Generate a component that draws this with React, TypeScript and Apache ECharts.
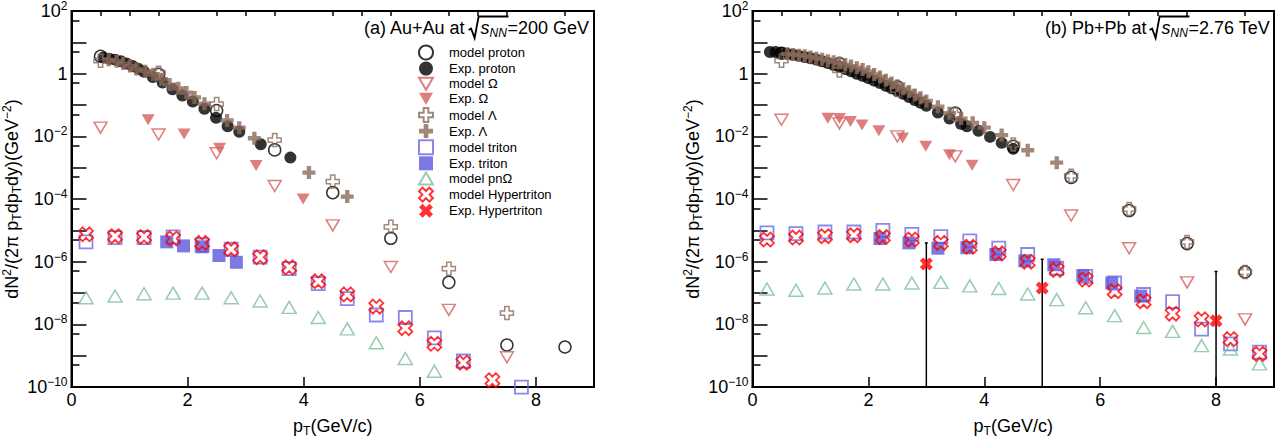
import React, { useEffect, useRef } from "react";
import * as echarts from "echarts";

// ---------- axis ticks / labels ----------
const xMajorTicks = [0, 2, 4, 6, 8];
const xMinorTicks = [0.5, 1, 1.5, 2.5, 3, 3.5, 4.5, 5, 5.5, 6.5, 7, 7.5, 8.5];
const yDecadeTicks = [1e-10, 1e-9, 1e-8, 1e-7, 1e-6, 1e-5, 1e-4, 1e-3, 1e-2, 1e-1, 1, 10, 100];
const yLabelValues = [1e-10, 1e-8, 1e-6, 1e-4, 1e-2, 1, 100];
const yMinorTicks = [5e-10, 5e-9, 5e-8, 5e-7, 5e-6, 5e-5, 5e-4, 5e-3, 5e-2, 0.5, 5, 50];

// ---------- legend names ----------
const N_MP = "model proton";
const N_EP = "Exp. proton";
const N_MO = "model Ω";
const N_EO = "Exp. Ω";
const N_ML = "model Λ";
const N_EL = "Exp. Λ";
const N_MT = "model triton";
const N_ET = "Exp. triton";
const N_PNO = "model pnΩ";
const N_MH = "model Hypertriton";
const N_EH = "Exp. Hypertriton";
const legendNames = [N_MP, N_EP, N_MO, N_EO, N_ML, N_EL, N_MT, N_ET, N_PNO, N_MH, N_EH];

// ---------- panel (a) Au+Au 200 GeV ----------
const aModelPt = [0.5, 1.5, 2.5, 3.5, 4.5, 5.5, 6.5, 7.5, 8.5];
const aModelProton = [3.6, 0.95, 0.067, 0.0037, 1.6e-4, 5.6e-6, 2.2e-7, 2.2e-9, 1.9e-9];
const aModelOmega = [0.019, 0.0115, 0.0029, 2.6e-4, 1.45e-5, 6.8e-7, 2.9e-8, 9e-10];
const aModelLambda = [2.6, 1.07, 0.107, 0.0076, 3.6e-4, 1.3e-5, 6e-7, 2.3e-8];
const aExpProtonPt = [0.55, 0.65, 0.75, 0.85, 0.95, 1.05, 1.15, 1.25, 1.4, 1.57, 1.74, 1.91, 2.09, 2.29, 2.49, 2.69, 2.89, 3.26, 3.77];
const aExpProton = [3.3, 3.0, 2.8, 2.5, 2.1, 1.75, 1.45, 1.15, 0.78, 0.52, 0.32, 0.2, 0.13, 0.076, 0.039, 0.021, 0.014, 0.0056, 0.0021];
const aExpOmegaPt = [1.32, 1.94, 2.55, 3.18, 3.99];
const aExpOmega = [0.034, 0.0118, 0.0042, 0.00117, 1.0e-4];
const aExpLambdaPt = [0.64, 0.78, 0.89, 1.01, 1.12, 1.27, 1.41, 1.55, 1.69, 1.84, 1.98, 2.12, 2.29, 2.68, 2.89, 3.15, 4.09, 4.75];
const aExpLambda = [2.8, 2.5, 2.1, 1.75, 1.4, 1.2, 0.96, 0.67, 0.45, 0.34, 0.25, 0.175, 0.11, 0.032, 0.019, 0.0087, 7e-4, 1.2e-4];
const aModelTritonPt = [0.25, 0.75, 1.25, 1.75, 2.25, 2.75, 3.25, 3.75, 4.25, 4.75, 5.25, 5.75, 6.25, 6.75, 7.75];
const aModelTriton = [4.3e-6, 5.9e-6, 5.9e-6, 6.2e-6, 3.4e-6, 2.5e-6, 1.4e-6, 6e-7, 2.0e-7, 6.7e-8, 2.0e-8, 1.66e-8, 3.7e-9, 6.8e-10, 1.0e-10];
const aExpTritonPt = [1.64, 1.93, 2.25, 2.54, 2.84];
const aExpTriton = [4.3e-6, 3.2e-6, 3.0e-6, 1.58e-6, 9.6e-7];
const aPnOmegaPt = [0.25, 0.75, 1.25, 1.75, 2.25, 2.75, 3.25, 3.75, 4.25, 4.75, 5.25, 5.75, 6.25];
const aPnOmega = [7.1e-8, 8.1e-8, 9.5e-8, 1.0e-7, 1.0e-7, 7.1e-8, 5.6e-8, 3.5e-8, 1.66e-8, 7.2e-9, 2.6e-9, 8.2e-10, 3.2e-10];
const aModelHyperPt = [0.25, 0.75, 1.25, 1.75, 2.25, 2.75, 3.25, 3.75, 4.25, 4.75, 5.25, 5.75, 6.25, 6.75, 7.25];
const aModelHyper = [7.5e-6, 6.5e-6, 6.2e-6, 5.5e-6, 4.0e-6, 2.5e-6, 1.4e-6, 6.6e-7, 2.4e-7, 9.1e-8, 3.7e-8, 7.6e-9, 2.4e-9, 6e-10, 1.66e-10];

// ---------- panel (b) Pb+Pb 2.76 TeV ----------
const bModelPt = [0.5, 1.5, 2.5, 3.5, 4.5, 5.5, 6.5, 7.5, 8.5];
const bModelProton = [4.5, 2.1, 0.38, 0.055, 0.0048, 4.9e-4, 4.3e-5, 3.8e-6, 4.7e-7];
const bModelLambda = [2.6, 1.27, 0.3, 0.05, 0.0055, 5.5e-4, 4.8e-5, 4.3e-6, 4.7e-7];
const bModelOmega = [0.034, 0.026, 0.010, 0.0023, 2.8e-4, 3.0e-5, 2.7e-6, 2.2e-7, 1.45e-8];
const bExpProtonPt = [0.3, 0.4, 0.5, 0.6, 0.7, 0.8, 0.9, 1.0, 1.1, 1.2, 1.3, 1.4, 1.5, 1.6, 1.7, 1.8, 1.9, 2.0, 2.1, 2.2, 2.3, 2.4, 2.5, 2.6, 2.7, 2.8, 2.9, 3.0, 3.2, 3.4, 3.6, 3.7, 3.9, 4.1, 4.3, 4.5];
const bExpProton = [4.9, 4.9, 4.6, 4.3, 4.0, 3.7, 3.4, 3.1, 2.8, 2.5, 2.2, 1.9, 1.65, 1.4, 1.2, 1.0, 0.85, 0.72, 0.6, 0.5, 0.41, 0.34, 0.28, 0.23, 0.18, 0.145, 0.118, 0.095, 0.058, 0.037, 0.025, 0.021, 0.015, 0.0096, 0.0062, 0.004];
const bExpLambdaPt = [0.6, 0.7, 0.8, 0.9, 1.0, 1.1, 1.2, 1.3, 1.4, 1.5, 1.6, 1.7, 1.8, 1.9, 2.0, 2.1, 2.2, 2.3, 2.4, 2.5, 2.6, 2.7, 2.8, 2.9, 3.0, 3.2, 3.4, 3.6, 3.8, 4.0, 4.3, 4.75, 5.25];
const bExpLambda = [4.3, 4.1, 3.9, 3.7, 3.4, 3.1, 2.9, 2.6, 2.4, 2.2, 1.95, 1.75, 1.55, 1.35, 1.15, 0.95, 0.78, 0.62, 0.5, 0.41, 0.33, 0.27, 0.21, 0.17, 0.135, 0.088, 0.055, 0.037, 0.027, 0.019, 0.011, 0.0036, 0.00145];
const bExpOmegaPt = [1.3, 1.5, 1.69, 1.89, 2.18, 2.59, 2.99, 3.4, 3.79];
const bExpOmega = [0.038, 0.037, 0.03, 0.023, 0.015, 0.0089, 0.0048, 0.0026, 0.0012];
const bModelHalfPt = [0.25, 0.75, 1.25, 1.75, 2.25, 2.75, 3.25, 3.75, 4.25, 4.75, 5.25, 5.75, 6.25, 6.75, 7.25, 7.75, 8.25, 8.75];
const bModelTriton = [8.3e-6, 7.9e-6, 8.9e-6, 8.9e-6, 1.0e-5, 7.5e-6, 6.3e-6, 4.6e-6, 2.7e-6, 1.7e-6, 6.2e-7, 3.4e-7, 2.1e-7, 9e-8, 5.3e-8, 7.1e-9, 2.4e-9, 1.3e-9];
const bModelHyper = [5.1e-6, 5.9e-6, 6.5e-6, 7e-6, 6.2e-6, 5.1e-6, 4.0e-6, 3.0e-6, 1.85e-6, 1.0e-6, 5.5e-7, 2.7e-7, 1.15e-7, 5.5e-8, 2.2e-8, 1.45e-8, 3.4e-9, 1.15e-9];
const bPnOmega = [1.35e-7, 1.23e-7, 1.45e-7, 1.95e-7, 1.95e-7, 2.1e-7, 2.2e-7, 1.7e-7, 1.4e-7, 9.3e-8, 6.2e-8, 3.4e-8, 1.9e-8, 8e-9, 6e-9, 2.1e-9, 1.65e-9, 5.5e-10];
const bExpTritonPt = [2.2, 2.7, 3.2, 3.7, 4.2, 4.7, 5.2, 5.7, 6.2, 6.7];
const bExpTriton = [5.5e-6, 4.0e-6, 2.7e-6, 2.8e-6, 1.7e-6, 1.07e-6, 8e-7, 3.6e-7, 2.1e-7, 8e-8];
const bExpHyperPt = [3, 5, 8];
const bExpHyper = [8.5e-7, 1.45e-7, 1.3e-8];
const bExpHyperUpper = [4.0e-6, 1.2e-6, 4.9e-7];

// ---------- styling ----------
const FONT = "'Liberation Sans', Arial, Helvetica, sans-serif";
const C_BLACK = "#000000";
const C_OMEGA = "#d45f5f";
const C_LAMBDA = "#8a6a5a";
const C_TRITON = "#5b57dc";
const C_TRITON_OPEN = "#6d6be6";
const C_PNO = "#7dbf9d";
const C_HYPER = "#ff0000";

const PLUS = "path://M-1,-3H1V-1H3V1H1V3H-1V1H-3V-1H-1Z";
const XSHAPE =
  "path://M1.485,-3.041L3.041,-1.485L1.556,0L3.041,1.485L1.485,3.041L0,1.556L-1.485,3.041L-3.041,1.485L-1.556,0L-3.041,-1.485L-1.485,-3.041L0,-1.556Z";
const TRI_DOWN = "path://M0,0L10,0L5,8.66Z";
const TRI_UP = "path://M5,0L10,8.66L0,8.66Z";

const pairs = (xs: number[], ys: number[]) => xs.map((x, i) => [x, ys[i]]);

const openStyle = (c: string, w = 1.5) => ({ color: "rgba(255,255,255,0)", borderColor: c, borderWidth: w });
const fillStyle = (c: string) => ({ color: c, borderWidth: 0 });

function sc(name: string, ax: number, data: number[][], symbol: string, size: any, itemStyle: any) {
  return {
    type: "scatter",
    name,
    xAxisIndex: ax * 2,
    yAxisIndex: ax * 2,
    data,
    symbol,
    symbolSize: size,
    itemStyle,
    emphasis: { disabled: true },
    silent: true,
    z: 3,
  };
}

function panelSeries(ax: number, d: any) {
  return [
    sc(N_MP, ax, d.mp, "circle", 12, openStyle(C_BLACK)),
    sc(N_EP, ax, d.ep, "circle", 12, fillStyle(C_BLACK)),
    sc(N_MO, ax, d.mo, TRI_DOWN, [13, 11], openStyle(C_OMEGA)),
    sc(N_EO, ax, d.eo, TRI_DOWN, [13, 11], fillStyle(C_OMEGA)),
    sc(N_ML, ax, d.ml, PLUS, 13, openStyle(C_LAMBDA)),
    sc(N_EL, ax, d.el, PLUS, 13, fillStyle(C_LAMBDA)),
    sc(N_MT, ax, d.mt, "rect", 13, openStyle(C_TRITON_OPEN, 1.8)),
    sc(N_ET, ax, d.et, "rect", 13, fillStyle(C_TRITON)),
    sc(N_PNO, ax, d.pno, TRI_UP, [14, 12], openStyle(C_PNO)),
    sc(N_MH, ax, d.mh, XSHAPE, 14, openStyle(C_HYPER, 1.8)),
    sc(N_EH, ax, d.eh, XSHAPE, 13, fillStyle(C_HYPER)),
  ];
}

const supRich = {
  sup: { fontSize: 12, lineHeight: 12, verticalAlign: "top", fontFamily: FONT, color: "#000" },
  sub: { fontSize: 12, lineHeight: 10, verticalAlign: "bottom", fontFamily: FONT, color: "#000" },
};

function yLabelFmt(v: number) {
  const e = Math.round(Math.log10(v));
  if (e === 0) return "1";
  return "10{sup|" + (e < 0 ? "\u2212" + -e : String(e)) + "}";
}

function xAxes(grid: number) {
  return [
    {
      type: "value",
      gridIndex: grid,
      min: 0,
      max: 9,
      axisLine: { show: true, onZero: false, lineStyle: { color: "#000", width: 2 } },
      axisTick: { show: true, inside: true, length: 10, lineStyle: { color: "#000", width: 1.5 }, customValues: xMajorTicks },
      axisLabel: { color: "#000", fontSize: 18, fontFamily: FONT, margin: 3, lineHeight: 20, customValues: xMajorTicks },
      splitLine: { show: false },
      name: "p{sub|T}(GeV/c)",
      nameLocation: "middle",
      nameGap: 23,
      nameTextStyle: { color: "#000", fontSize: 18, fontFamily: FONT, lineHeight: 22, rich: supRich },
    },
    {
      type: "value",
      gridIndex: grid,
      min: 0,
      max: 9,
      axisLine: { show: false },
      axisTick: { show: true, inside: true, length: 5, lineStyle: { color: "#000", width: 1.5 }, customValues: xMinorTicks },
      axisLabel: { show: false },
      splitLine: { show: false },
    },
  ];
}

function yAxes(grid: number) {
  return [
    {
      type: "log",
      logBase: 10,
      gridIndex: grid,
      position: "left",
      min: 1e-10,
      max: 100,
      axisLine: { show: true, onZero: false, lineStyle: { color: "#000", width: 2 } },
      axisTick: { show: true, inside: true, length: 15, lineStyle: { color: "#000", width: 1.5 }, customValues: yDecadeTicks },
      axisLabel: { color: "#000", fontSize: 18, fontFamily: FONT, margin: 4, lineHeight: 22, customValues: yLabelValues, formatter: yLabelFmt, rich: supRich },
      splitLine: { show: false },
      name: "dN{sup|2}/(2π p{sub|T}dp{sub|T}dy)(GeV{sup|\u22122})",
      nameLocation: "middle",
      nameRotate: 90,
      nameGap: 40,
      nameTextStyle: { color: "#000", fontSize: 18, fontFamily: FONT, lineHeight: 22, rich: supRich },
    },
    {
      type: "log",
      logBase: 10,
      gridIndex: grid,
      position: "left",
      min: 1e-10,
      max: 100,
      axisLine: { show: false },
      axisTick: { show: true, inside: true, length: 8, lineStyle: { color: "#000", width: 1.5 }, customValues: yMinorTicks },
      axisLabel: { show: false },
      splitLine: { show: false },
    },
  ];
}

const GRIDS = [
  { left: 71.5, top: 9.5, width: 522.5, height: 380 },
  { left: 752.5, top: 9.5, width: 521.5, height: 380 },
];

function measure(text: string, font: string) {
  const c = document.createElement("canvas").getContext("2d");
  if (!c) return text.length * 8;
  c.font = font;
  return c.measureText(text).width;
}

function titleGraphic(rightX: number, pre: string, post: string) {
  const fs = 18;
  const fMain = `${fs}px ${FONT}`;
  const fIt = `italic ${fs}px ${FONT}`;
  const fSub = `italic 12px ${FONT}`;
  const yc = 28;
  const wPost = measure(post, fMain);
  const wNN = measure("NN", fSub);
  const wS = measure("s", fIt);
  const xPost = rightX - wPost;
  const xNN = xPost - wNN - 0.5;
  const xS = xNN - wS;
  const xr = xS - 12;
  const wPre = measure(pre, fMain);
  const xPre = xr - 3 - wPre;
  const txt = (x: number, y: number, text: string, font: string) => ({
    type: "text",
    x,
    y,
    silent: true,
    style: { text, font, fill: "#000", align: "left", verticalAlign: "middle" },
  });
  return [
    txt(xPre, yc, pre, fMain),
    txt(xS, yc, "s", fIt),
    txt(xNN, yc + 5, "NN", fSub),
    txt(xPost, yc, post, fMain),
    {
      type: "polyline",
      silent: true,
      shape: {
        points: [
          [xr, yc + 2],
          [xr + 2.5, yc + 0.5],
          [xr + 6, yc + 10],
          [xr + 10, yc - 11.5],
          [xPost + 1, yc - 11.5],
        ],
      },
      style: { stroke: "#000", lineWidth: 1.8, fill: "none" },
    },
  ];
}

export default function App() {
  const ref = useRef<HTMLDivElement>(null);
  useEffect(() => {
    if (!ref.current) return;
    const chart = echarts.init(ref.current, undefined, { renderer: "svg" });

    const aData = {
      mp: pairs(aModelPt, aModelProton),
      ep: pairs(aExpProtonPt, aExpProton),
      mo: pairs(aModelPt, aModelOmega),
      eo: pairs(aExpOmegaPt, aExpOmega),
      ml: pairs(aModelPt, aModelLambda),
      el: pairs(aExpLambdaPt, aExpLambda),
      mt: pairs(aModelTritonPt, aModelTriton),
      et: pairs(aExpTritonPt, aExpTriton),
      pno: pairs(aPnOmegaPt, aPnOmega),
      mh: pairs(aModelHyperPt, aModelHyper),
      eh: [] as number[][],
    };
    const bData = {
      mp: pairs(bModelPt, bModelProton),
      ep: pairs(bExpProtonPt, bExpProton),
      mo: pairs(bModelPt, bModelOmega),
      eo: pairs(bExpOmegaPt, bExpOmega),
      ml: pairs(bModelPt, bModelLambda),
      el: pairs(bExpLambdaPt, bExpLambda),
      mt: pairs(bModelHalfPt, bModelTriton),
      et: pairs(bExpTritonPt, bExpTriton),
      pno: pairs(bModelHalfPt, bPnOmega),
      mh: pairs(bModelHalfPt, bModelHyper),
      eh: pairs(bExpHyperPt, bExpHyper),
    };

    const errSeries = {
      type: "custom",
      xAxisIndex: 2,
      yAxisIndex: 2,
      silent: true,
      z: 1,
      data: pairs(bExpHyperPt, bExpHyperUpper),
      renderItem: (params: any, api: any) => {
        const top = api.coord([api.value(0), api.value(1)]);
        const cs = params.coordSys;
        const bottom = cs.y + cs.height;
        return {
          type: "group",
          children: [
            { type: "line", shape: { x1: top[0], y1: top[1], x2: top[0], y2: bottom }, style: { stroke: "#000", lineWidth: 1.5 } },
            { type: "line", shape: { x1: top[0] - 1.5, y1: top[1], x2: top[0] + 1.5, y2: top[1] }, style: { stroke: "#000", lineWidth: 1.5 } },
          ],
        };
      },
    };

    const option: any = {
      animation: false,
      backgroundColor: "#ffffff",
      textStyle: { fontFamily: FONT },
      grid: GRIDS.map((g) => ({ ...g, show: true, borderColor: "#000", borderWidth: 2, backgroundColor: "transparent", containLabel: false })),
      xAxis: [...xAxes(0), ...xAxes(1)],
      yAxis: [...yAxes(0), ...yAxes(1)],
      legend: {
        data: legendNames,
        orient: "vertical",
        left: 413,
        top: 39.5,
        padding: 5,
        itemWidth: 14,
        itemHeight: 14,
        itemGap: 1.1,
        selectedMode: false,
        textStyle: { color: "#000", fontSize: 13, lineHeight: 14, fontFamily: FONT, padding: [0, 0, 0, 11] },
      },
      graphic: [
        ...titleGraphic(GRIDS[0].left + GRIDS[0].width - 5, "(a) Au+Au at", "=200 GeV"),
        ...titleGraphic(GRIDS[1].left + GRIDS[1].width - 4, "(b) Pb+Pb at", "=2.76 TeV"),
      ],
      series: [...panelSeries(0, aData), errSeries, ...panelSeries(1, bData)],
    };
    chart.setOption(option);
    return () => chart.dispose();
  }, []);
  return <div ref={ref} style={{ position: "fixed", left: 0, top: 0, width: 1282, height: 442, background: "#fff" }} />;
}
